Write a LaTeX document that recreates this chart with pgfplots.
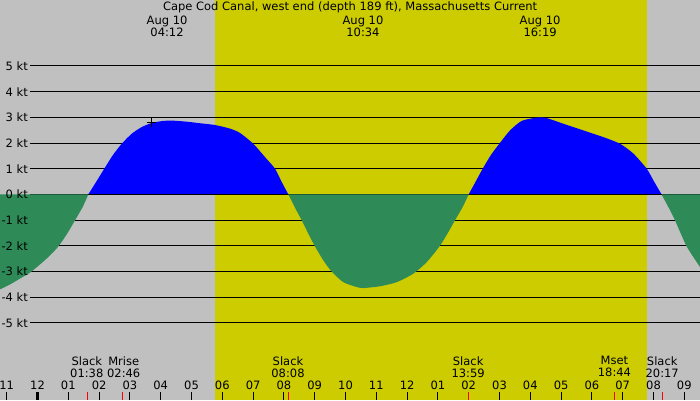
\documentclass[border=0pt]{standalone}
\usepackage{fontspec}
\setmainfont{DejaVu Sans}
\usepackage{pgfplots}
\pgfplotsset{compat=1.18}
\definecolor{bg}{HTML}{C0C0C0}
\definecolor{day}{HTML}{CCCC00}
\definecolor{flood}{HTML}{0000FF}
\definecolor{ebb}{HTML}{2E8B57}
\begin{document}
\fontsize{11.5}{12}\selectfont
\begin{tikzpicture}
\begin{axis}[scale only axis, width=700pt, height=400pt,
  xmin=-1.218, xmax=21.51, ymin=-8.01, ymax=7.57,
  axis line style={draw=none}, ticks=none,
  axis background/.style={fill=bg}, clip=false]
\fill[day] (axis cs:5.763,-8.01) rectangle (axis cs:19.78,7.57);
\pgfplotsinvokeforeach{-5,...,5}{\draw[line width=1pt] (axis cs:-0.244,#1) -- (axis cs:21.51,#1);}
% ebb 1
\addplot[draw=none, fill=ebb, smooth, tension=0.4] coordinates {
(-1.218,-3.70) (-0.893,-3.51) (-0.568,-3.28) (-0.244,-3.05) (0.081,-2.73) (0.406,-2.38) (0.675,-2.03) (0.948,-1.56) (1.218,-1.01) (1.468,-0.49) (1.65,0)} \closedcycle;
% flood 1
\addplot[draw=none, fill=flood, smooth, tension=0.4] coordinates {
(1.65,0) (1.922,0.52) (2.169,1.0) (2.442,1.52) (2.734,1.97) (3.058,2.36) (3.383,2.62) (3.708,2.78) (4.084,2.86) (4.409,2.87) (4.844,2.83) (5.276,2.77) (5.763,2.70) (6.250,2.56) (6.575,2.39) (7.006,1.97) (7.386,1.45) (7.711,1.0) (7.929,0.48) (8.143,0)} \closedcycle;
% ebb 2
\addplot[draw=none, fill=ebb, smooth, tension=0.4] coordinates {
(8.143,0) (8.360,-0.52) (8.578,-1.01) (8.792,-1.53) (9.010,-2.03) (9.279,-2.57) (9.552,-3.01) (9.929,-3.42) (10.364,-3.61) (10.578,-3.65) (11.120,-3.58) (11.662,-3.42) (12.201,-3.09) (12.636,-2.64) (13.068,-2.0) (13.338,-1.47) (13.555,-1.01) (13.805,-0.49) (14.0,0)} \closedcycle;
% flood 2
\addplot[draw=none, fill=flood, smooth, tension=0.4] coordinates {
(14.0,0) (14.237,0.52) (14.455,1.0) (14.714,1.52) (14.994,1.97) (15.341,2.49) (15.721,2.86) (16.208,2.99) (16.532,2.97) (17.071,2.75) (17.721,2.49) (18.370,2.23) (18.912,1.97) (19.344,1.59) (19.779,1.0) (19.994,0.55) (20.26,0)} \closedcycle;
% ebb 3
\addplot[draw=none, fill=ebb, smooth, tension=0.4] coordinates {
(20.26,0) (20.481,-0.49) (20.698,-1.01) (21.078,-2.03) (21.51,-2.83)} \closedcycle;
\draw[line width=1pt] (axis cs:1.65,0) -- (axis cs:8.143,0);
\draw[line width=1pt] (axis cs:14.0,0) -- (axis cs:20.26,0);
\addplot[only marks, mark=+, mark size=4.5pt, black, line width=0.8pt] coordinates {(3.685,2.80)};
% y labels
\pgfplotsinvokeforeach{1,...,5}{\node[anchor=east, inner sep=0pt] at (axis cs:-0.308,#1) {#1 kt};}
\pgfplotsinvokeforeach{1,...,5}{\node[anchor=east, inner sep=0pt] at (axis cs:-0.308,-#1) {-#1 kt};}
\node[anchor=east, inner sep=0pt] at (axis cs:-0.308,0) {0 kt};
% title and top labels
\node[inner sep=0pt] at (axis cs:10.15,7.30) {Cape Cod Canal, west end (depth 189 ft), Massachusetts Current};
\node[inner sep=0pt, align=center] at (axis cs:4.205,6.53) {Aug 10\\04:12};
\node[inner sep=0pt, align=center] at (axis cs:10.567,6.53) {Aug 10\\10:34};
\node[inner sep=0pt, align=center] at (axis cs:16.317,6.53) {Aug 10\\16:19};
% event labels
\node[inner sep=0pt, align=center] at (axis cs:1.60,-6.72) {Slack\\01:38};
\node[inner sep=0pt, align=center] at (axis cs:2.80,-6.72) {Mrise\\02:46};
\node[inner sep=0pt, align=center] at (axis cs:8.133,-6.72) {Slack\\08:08};
\node[inner sep=0pt, align=center] at (axis cs:13.983,-6.72) {Slack\\13:59};
\node[inner sep=0pt, align=center] at (axis cs:18.733,-6.72) {Mset\\18:44};
\node[inner sep=0pt, align=center] at (axis cs:20.283,-6.72) {Slack\\20:17};
% hour ticks
\pgfplotsinvokeforeach{-1,...,21}{\draw[line width=1pt] (axis cs:#1,-7.70) -- (axis cs:#1,-8.01);}
\draw[line width=3pt] (axis cs:0,-7.70) -- (axis cs:0,-8.01);
\pgfplotsinvokeforeach{1.633,2.767,8.133,13.983,18.733,20.283}{\draw[red, line width=1pt] (axis cs:#1,-7.70) -- (axis cs:#1,-8.01);}
% hour labels
\node[inner sep=0pt] at (axis cs:-1,-7.43) {11};
\node[inner sep=0pt] at (axis cs:0,-7.43) {12};
\node[inner sep=0pt] at (axis cs:1,-7.43) {01};
\node[inner sep=0pt] at (axis cs:2,-7.43) {02};
\node[inner sep=0pt] at (axis cs:3,-7.43) {03};
\node[inner sep=0pt] at (axis cs:4,-7.43) {04};
\node[inner sep=0pt] at (axis cs:5,-7.43) {05};
\node[inner sep=0pt] at (axis cs:6,-7.43) {06};
\node[inner sep=0pt] at (axis cs:7,-7.43) {07};
\node[inner sep=0pt] at (axis cs:8,-7.43) {08};
\node[inner sep=0pt] at (axis cs:9,-7.43) {09};
\node[inner sep=0pt] at (axis cs:10,-7.43) {10};
\node[inner sep=0pt] at (axis cs:11,-7.43) {11};
\node[inner sep=0pt] at (axis cs:12,-7.43) {12};
\node[inner sep=0pt] at (axis cs:13,-7.43) {01};
\node[inner sep=0pt] at (axis cs:14,-7.43) {02};
\node[inner sep=0pt] at (axis cs:15,-7.43) {03};
\node[inner sep=0pt] at (axis cs:16,-7.43) {04};
\node[inner sep=0pt] at (axis cs:17,-7.43) {05};
\node[inner sep=0pt] at (axis cs:18,-7.43) {06};
\node[inner sep=0pt] at (axis cs:19,-7.43) {07};
\node[inner sep=0pt] at (axis cs:20,-7.43) {08};
\node[inner sep=0pt] at (axis cs:21,-7.43) {09};
\end{axis}
\pgfresetboundingbox
\useasboundingbox (current axis.south west) rectangle (current axis.north east);
\end{tikzpicture}
\end{document}
